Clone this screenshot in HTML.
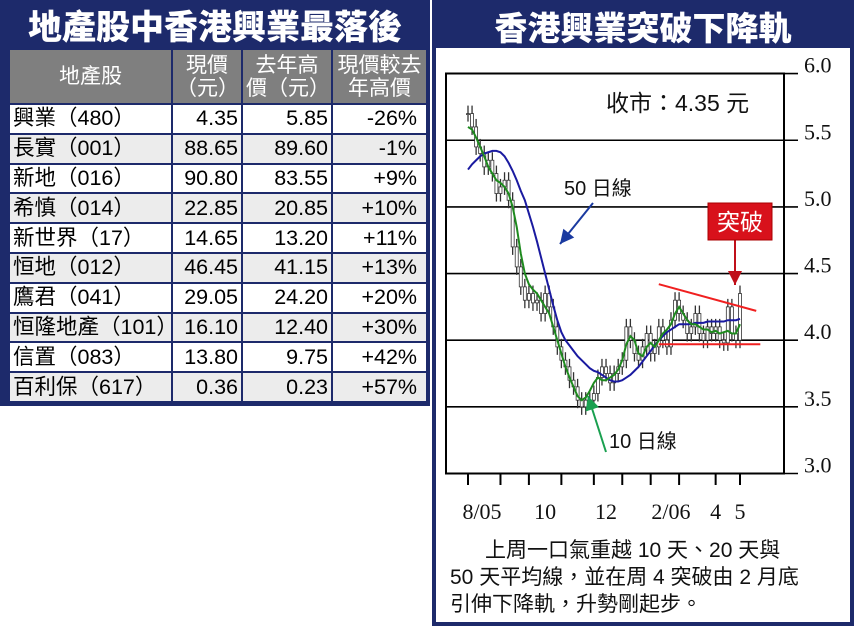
<!DOCTYPE html>
<html><head><meta charset="utf-8"><style>
body{margin:0;width:855px;height:628px;background:#fff;position:relative;overflow:hidden;font-family:"Liberation Sans","Noto Sans CJK TC",sans-serif}
.abs{position:absolute}
#lp{left:0;top:0;width:424px;height:400px;border:3px solid #1d2a6b;background:#1d2a6b}
#rp{left:432px;top:0;width:414px;height:618px;border:4px solid #1d2a6b;background:#fff}
.ttl{color:#fff;font-weight:900;font-family:"Noto Sans CJK TC",sans-serif;text-align:center}
table{border-collapse:collapse;position:absolute;left:5px;top:45px;width:420px;font-size:21.5px;table-layout:fixed}
td,th{border:2px solid #1d2a6b;padding:0 3px;height:27.8px;line-height:27px;white-space:nowrap;overflow:hidden}
th{background:#7f7f7f;color:#fff;font-weight:normal;line-height:23px;height:53px;font-size:21px}
td.n{text-align:right}
tr.g td{background:#ececec}
tr.w td{background:#fff}
</style></head><body>
<div id="lp" class="abs">
<div class="abs ttl" style="left:0;top:0;width:424px;font-size:34px;line-height:44px">地產股中香港興業最落後</div>
<table>
<tr><th style="width:155px">地產股</th><th style="width:62px">現價<br>（元）</th><th style="width:82px">去年高<br>價（元）</th><th>現價較去<br>年高價</th></tr>
<tr class="w"><td>興業（480）</td><td class="n">4.35</td><td class="n">5.85</td><td class="n">-26%&nbsp;</td></tr>
<tr class="g"><td>長實（001）</td><td class="n">88.65</td><td class="n">89.60</td><td class="n">-1%&nbsp;</td></tr>
<tr class="w"><td>新地（016）</td><td class="n">90.80</td><td class="n">83.55</td><td class="n">+9%&nbsp;</td></tr>
<tr class="g"><td>希慎（014）</td><td class="n">22.85</td><td class="n">20.85</td><td class="n">+10%&nbsp;</td></tr>
<tr class="w"><td>新世界（17）</td><td class="n">14.65</td><td class="n">13.20</td><td class="n">+11%&nbsp;</td></tr>
<tr class="g"><td>恒地（012）</td><td class="n">46.45</td><td class="n">41.15</td><td class="n">+13%&nbsp;</td></tr>
<tr class="w"><td>鷹君（041）</td><td class="n">29.05</td><td class="n">24.20</td><td class="n">+20%&nbsp;</td></tr>
<tr class="g"><td>恒隆地產（101）</td><td class="n">16.10</td><td class="n">12.40</td><td class="n">+30%&nbsp;</td></tr>
<tr class="w"><td>信置（083）</td><td class="n">13.80</td><td class="n">9.75</td><td class="n">+42%&nbsp;</td></tr>
<tr class="g"><td>百利保（617）</td><td class="n">0.36</td><td class="n">0.23</td><td class="n">+57%&nbsp;</td></tr>
</table>
</div>
<div id="rp" class="abs">
<div class="abs ttl" style="left:0;top:0;width:414px;height:44px;background:#1d2a6b;font-size:33px;line-height:44px">香港興業突破下降軌</div>
<div class="abs" style="left:14px;top:533px;width:400px;font-size:21px;line-height:27px;color:#111">&nbsp;&nbsp;&nbsp;&nbsp;&nbsp;&nbsp;上周一口氣重越 10 天、20 天與<br>50 天平均線，並在周 4 突破由 2 月底<br>引伸下降軌，升勢剛起步。</div>
</div>
<svg class="abs" style="left:0;top:0" width="855" height="628" id="chart"></svg>
<script>
const closes=[5.70,5.60,5.45,5.40,5.30,5.35,5.25,5.10,5.15,5.20,
5.05,4.70,4.55,4.40,4.30,4.35,4.28,4.30,4.20,4.35,
4.25,4.10,3.95,3.85,3.80,3.70,3.65,3.55,3.50,3.55,
3.55,3.60,3.72,3.80,3.75,3.68,3.75,3.80,3.85,4.10,
4.00,3.90,3.85,3.95,4.05,3.90,3.95,4.10,4.00,3.95,
4.15,4.30,4.20,4.15,4.05,4.10,4.20,4.05,4.00,4.10,
4.05,4.10,4.00,3.98,4.25,4.05,4.00,4.35];
const ma10=[5.6,5.58,5.52,5.45,5.38,5.3,5.25,5.2,5.18,5.15,
5.1,5.0,4.85,4.65,4.5,4.42,4.38,4.35,4.3,4.25,
4.2,4.1,4.0,3.9,3.8,3.72,3.65,3.58,3.55,3.57,
3.62,3.68,3.72,3.7,3.7,3.72,3.74,3.78,3.85,3.97,
4.03,4.0,3.9,3.88,3.95,3.98,3.95,4.0,4.05,4.08,
4.12,4.2,4.25,4.2,4.15,4.12,4.12,4.1,4.08,4.08,
4.06,4.07,4.05,4.06,4.07,4.05,4.05,4.12];
const ma50=[5.28,5.32,5.35,5.38,5.40,5.41,5.42,5.42,5.41,5.38,
5.33,5.27,5.2,5.12,5.05,4.95,4.85,4.74,4.62,4.5,
4.38,4.26,4.15,4.06,4.0,3.96,3.92,3.88,3.85,3.82,
3.79,3.77,3.76,3.74,3.72,3.70,3.69,3.69,3.70,3.72,
3.74,3.77,3.80,3.84,3.88,3.92,3.96,4.0,4.03,4.06,
4.08,4.1,4.12,4.12,4.12,4.12,4.13,4.13,4.13,4.14,
4.14,4.14,4.14,4.14,4.15,4.15,4.15,4.16];
const yTicks=["3.0","3.5","4.0","4.5","5.0","5.5","6.0"];
const xLabels=["8/05","10","12","2/06","4","5"];
const xLabelIdx=[0,19,34,50,61,67];
const tickIdx=[0,8,15,23,31,38,45,52,61,67];
const resist=[[47,4.42],[71,4.22]];
const support=[[47,3.97],[72,3.97]];
const NS="http://www.w3.org/2000/svg";
const svg=document.getElementById('chart');
const X0=468,X1=740,Y0=473.5,PX=133.3;
const xs=i=>X0+(X1-X0)*i/(closes.length-1);
const ys=v=>Y0-(v-3)*PX;
function mk(t,a){const e=document.createElementNS(NS,t);for(const k in a)e.setAttribute(k,a[k]);svg.appendChild(e);return e;}
let e=mk('rect',{x:446,y:73.5,width:338,height:400,fill:'none',stroke:'#000','stroke-width':2});


yTicks.forEach(t=>{const y=ys(+t);
 let l=mk('line',{x1:446,x2:798,y1:y,y2:y,stroke:'#000','stroke-width':1.6});
 
 
 let tx=mk('text',{x:804,y:y-1,'font-size':22,'font-family':'Liberation Serif,serif',fill:'#111'});tx.textContent=t;
 
 
});
tickIdx.forEach(i=>{let l=mk('line',{x1:xs(i),x2:xs(i),y1:473,y2:485,stroke:'#000','stroke-width':2});
 
 });
xLabels.forEach((t,k)=>{let tx=mk('text',{x:xs(xLabelIdx[k])+(k==0?14:0),y:519,'font-size':22,'font-family':'Liberation Serif,serif','text-anchor':'middle',fill:'#111'});tx.textContent=t;
 
 });
closes.forEach((c,i)=>{const o=i?closes[i-1]:c;const hi=Math.max(o,c)+0.06,lo=Math.min(o,c)-0.06;
 let l=mk('line',{x1:xs(i),x2:xs(i),y1:ys(hi),y2:ys(lo),stroke:'#333','stroke-width':1.3});
 
 
 let b=mk('rect',{x:xs(i)-1.5,y:ys(Math.max(o,c)),width:3,height:Math.max(1,Math.abs(ys(o)-ys(c))),fill:'#fff',stroke:'#333','stroke-width':0.8});
 
 });
function line(arr,col,name){let p=mk('polyline',{points:arr.map((v,i)=>xs(i)+','+ys(v)).join(' '),fill:'none',stroke:col,'stroke-width':2});
 
 }
line(ma50,'#1a1aa0','ma50-line');line(ma10,'#1e8a1e','ma10-line');
function seg(s,name){let l=mk('line',{x1:xs(s[0][0]),y1:ys(s[0][1]),x2:xs(s[1][0]),y2:ys(s[1][1]),stroke:'#f02020','stroke-width':2});
 
 }
seg(resist,'resistance-line');seg(support,'support-line');
function arrow(x1,y1,x2,y2,c,name){let l=mk('line',{x1,y1,x2,y2,stroke:c,'stroke-width':2});
 
 
 const a=Math.atan2(y2-y1,x2-x1),L=14,W=7;
 const bx=x2-L*Math.cos(a),by=y2-L*Math.sin(a);
 let h=mk('polygon',{points:`${x2},${y2} ${bx+W*Math.sin(a)},${by-W*Math.cos(a)} ${bx-W*Math.sin(a)},${by+W*Math.cos(a)}`,fill:c});
 
 }
arrow(593,203,560,244,'#1a3aa0','ma50-arrow');
arrow(606,452,588,396,'#1aa050','ma10-arrow');
arrow(735,240,735,285,'#c0101a','breakout-arrow');
let bx=mk('rect',{x:708,y:203,width:64,height:37,fill:'#d8111b',stroke:'#a00','stroke-width':1});


function txt(s,x,y,fs,c,name,anc){let t=mk('text',{x,y,'font-size':fs,fill:c,'font-family':'Liberation Sans,Noto Sans CJK TC,sans-serif','text-anchor':anc||'start'});t.textContent=s;
 
 }
txt('突破',740,230,23,'#fff','breakout-label','middle');
txt('收市：4.35 元',606,111,23,'#111','close-price-label');
txt('50 日線',564,195,20,'#111','ma50-label');
txt('10 日線',609,448,20,'#111','ma10-label');
</script>
</body></html>
